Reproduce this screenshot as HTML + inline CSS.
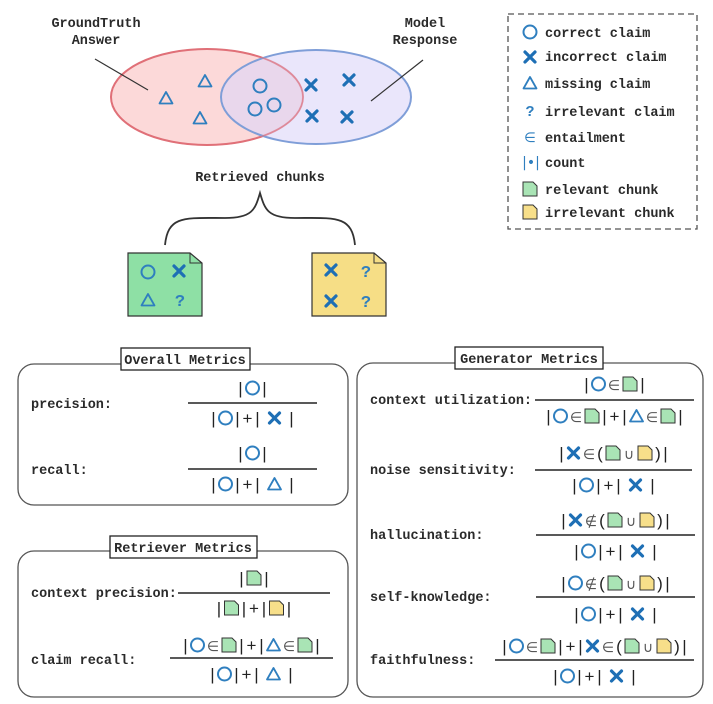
<!DOCTYPE html>
<html><head><meta charset="utf-8"><style>
html,body{margin:0;padding:0;background:#fff;}
svg{display:block;}
text{font-family:"Liberation Mono",monospace;font-size:13.5px;font-weight:bold;fill:#2a2a2a;}
.f{font-family:"Liberation Sans",sans-serif;font-weight:normal;fill:#222;font-size:17px;}
</style></head><body>
<svg id="s" width="713" height="704" viewBox="0 0 713 704" xmlns="http://www.w3.org/2000/svg">
<defs>
<g id="o"><circle cx="0" cy="0" r="6.5" fill="none" stroke="#2f7fbf" stroke-width="2"/></g>
<g id="x"><path d="M-5,-5 L5,5 M5,-5 L-5,5" stroke="#1e6fb5" stroke-width="3.2" stroke-linecap="round"/></g>
<g id="t"><path d="M0,-6 L6.5,5.5 L-6.5,5.5 Z" fill="none" stroke="#2f7fbf" stroke-width="1.8" stroke-linejoin="round"/></g>
<g id="g"><path d="M-7,-7 L3,-7 L7,-3 L7,7 L-7,7 Z" fill="#a9e4b5" stroke="#333" stroke-width="1"/></g>
<g id="y"><path d="M-7,-7 L3,-7 L7,-3 L7,7 L-7,7 Z" fill="#f7df8a" stroke="#333" stroke-width="1"/></g>
</defs>

<!-- Venn -->
<ellipse cx="207" cy="97" rx="96" ry="48" fill="#fbd2d2" fill-opacity="0.85" stroke="#e07078" stroke-width="2"/>
<ellipse cx="316" cy="97" rx="95" ry="47" fill="#dcd6f8" fill-opacity="0.6" stroke="#7f9ed8" stroke-width="2"/>
<ellipse cx="207" cy="97" rx="96" ry="48" fill="none" stroke="#e07078" stroke-width="1.5" stroke-opacity="0.6"/>
<text x="96" y="27" text-anchor="middle">GroundTruth</text>
<text x="96" y="44" text-anchor="middle">Answer</text>
<text x="425" y="27" text-anchor="middle">Model</text>
<text x="425" y="44" text-anchor="middle">Response</text>
<line x1="95" y1="59" x2="148" y2="90" stroke="#333" stroke-width="1.2"/>
<line x1="423" y1="60" x2="371" y2="101" stroke="#333" stroke-width="1.2"/>
<use href="#t" x="166" y="98"/><use href="#t" x="205" y="81"/><use href="#t" x="200" y="118"/>
<use href="#o" x="260" y="86"/><use href="#o" x="255" y="109"/><use href="#o" x="274" y="105"/>
<use href="#x" x="311" y="85"/><use href="#x" x="349" y="80"/><use href="#x" x="312" y="116"/><use href="#x" x="347" y="117"/>

<text x="260" y="181" text-anchor="middle">Retrieved chunks</text>
<path d="M165,245 C168,215 185,218 225,218 C252,218 255,210 260,193 C265,210 268,218 295,218 C335,218 352,215 355,245" fill="none" stroke="#333" stroke-width="1.8"/>
<path d="M128,253 L190,253 L202,263 L202,316 L128,316 Z" fill="#8ee0a5" stroke="#333" stroke-width="1.2"/>
<path d="M190,253 L190,263 L202,263" fill="none" stroke="#333" stroke-width="1"/>
<use href="#o" x="148" y="272"/><use href="#x" x="179" y="271"/><use href="#t" x="148" y="300"/>
<text x="180" y="306" text-anchor="middle" style="fill:#2f7fbf;font-size:17px">?</text>
<path d="M312,253 L374,253 L386,263 L386,316 L312,316 Z" fill="#f6de86" stroke="#333" stroke-width="1.2"/>
<path d="M374,253 L374,263 L386,263" fill="none" stroke="#333" stroke-width="1"/>
<use href="#x" x="331" y="270"/><use href="#x" x="331" y="301"/>
<text x="366" y="277" text-anchor="middle" style="fill:#2f7fbf;font-size:17px">?</text>
<text x="366" y="307" text-anchor="middle" style="fill:#2f7fbf;font-size:17px">?</text>

<!-- legend -->
<rect x="508" y="14" width="189" height="215" fill="none" stroke="#555" stroke-width="1.3" stroke-dasharray="6,4"/>
<use href="#o" x="530" y="32"/><text x="545" y="37">correct claim</text>
<use href="#x" x="530" y="57"/><text x="545" y="61">incorrect claim</text>
<use href="#t" x="530" y="83"/><text x="545" y="88">missing claim</text>
<text x="530" y="116" text-anchor="middle" style="fill:#2f7fbf;font-size:15px">?</text><text x="545" y="116">irrelevant claim</text>
<text x="530" y="142" text-anchor="middle" style="fill:#2f7fbf;font-family:'DejaVu Sans',sans-serif;font-weight:normal">∈</text><text x="545" y="142">entailment</text>
<text x="531" y="167" text-anchor="middle" style="fill:#2f7fbf;font-family:'DejaVu Sans',sans-serif;font-weight:normal;font-size:14px">|•|</text><text x="545" y="167">count</text>
<use href="#g" x="530" y="189"/><text x="545" y="194">relevant chunk</text>
<use href="#y" x="530" y="212"/><text x="545" y="217">irrelevant chunk</text>

<!-- boxes -->
<rect x="18" y="364" width="330" height="141" rx="16" fill="none" stroke="#555" stroke-width="1.3"/>
<rect x="121" y="348" width="129" height="22" fill="#fff" stroke="#222" stroke-width="1.3"/>
<text x="185" y="364" text-anchor="middle">Overall Metrics</text>
<rect x="18" y="551" width="330" height="146" rx="16" fill="none" stroke="#555" stroke-width="1.3"/>
<rect x="110" y="536" width="147" height="22" fill="#fff" stroke="#222" stroke-width="1.3"/>
<text x="183" y="552" text-anchor="middle">Retriever Metrics</text>
<rect x="357" y="363" width="346" height="334" rx="16" fill="none" stroke="#555" stroke-width="1.3"/>
<rect x="455" y="347" width="148" height="22" fill="#fff" stroke="#222" stroke-width="1.3"/>
<text x="529" y="363" text-anchor="middle">Generator Metrics</text>

<text x="31" y="408">precision:</text>
<text x="31" y="474">recall:</text>
<text x="31" y="597">context precision:</text>
<text x="31" y="664">claim recall:</text>
<text x="370" y="404">context utilization:</text>
<text x="370" y="474">noise sensitivity:</text>
<text x="370" y="539">hallucination:</text>
<text x="370" y="601">self-knowledge:</text>
<text x="370" y="664">faithfulness:</text>
<g id="fr"></g>
</svg>
<script>
var NS="http://www.w3.org/2000/svg",G=document.getElementById("fr");
var W={o:17,x:17,t:17,g:18,y:18,"|":7,"+":13,"∈":14,"∉":14,"(":8,")":8,"∪":14," ":5};
function line(x1,x2,y){var l=document.createElementNS(NS,"line");l.setAttribute("x1",x1);l.setAttribute("x2",x2);l.setAttribute("y1",y);l.setAttribute("y2",y);l.setAttribute("stroke","#222");l.setAttribute("stroke-width","1.4");G.appendChild(l);}
function row(s,cx,cy){var toks=Array.from(s),tw=0;toks.forEach(function(c){tw+=W[c]});var x=cx-tw/2;
toks.forEach(function(c){var w=W[c],m=x+w/2;
if("oxtgy".indexOf(c)>=0){var u=document.createElementNS(NS,"use");u.setAttribute("href","#"+c);u.setAttribute("x",m);u.setAttribute("y",cy);G.appendChild(u);}
else if(c!=" "){var t=document.createElementNS(NS,"text");t.setAttribute("x",m);t.setAttribute("y",cy+6);t.setAttribute("text-anchor","middle");t.setAttribute("class","f");if(c=="∈"||c=="∉"||c=="∪"){t.style.fontSize="14px";t.style.fill="#555";}t.textContent=c;G.appendChild(t);}
x+=w;});}
function fr(n,d,x1,x2,y,ny,dy){line(x1,x2,y);var c=(x1+x2)/2;row(n,c,ny);row(d,c,dy);}
fr("|o|","|o|+| x |",188,317,403,388,418);
fr("|o|","|o|+| t |",188,317,469,453,484);
fr("|g|","|g|+|y|",178,330,593,578,608);
fr("|o∈g|+|t∈g|","|o|+| t |",170,333,658,645,674);
fr("|o∈g|","|o∈g|+|t∈g|",535,694,400,384,416);
fr("|x∈(g∪y)|","|o|+| x |",535,692,470,453,485);
fr("|x∉(g∪y)|","|o|+| x |",536,695,535,520,551);
fr("|o∉(g∪y)|","|o|+| x |",536,695,597,583,614);
fr("|o∈g|+|x∈(g∪y)|","|o|+| x |",495,694,660,646,676);
</script>
</body></html>
